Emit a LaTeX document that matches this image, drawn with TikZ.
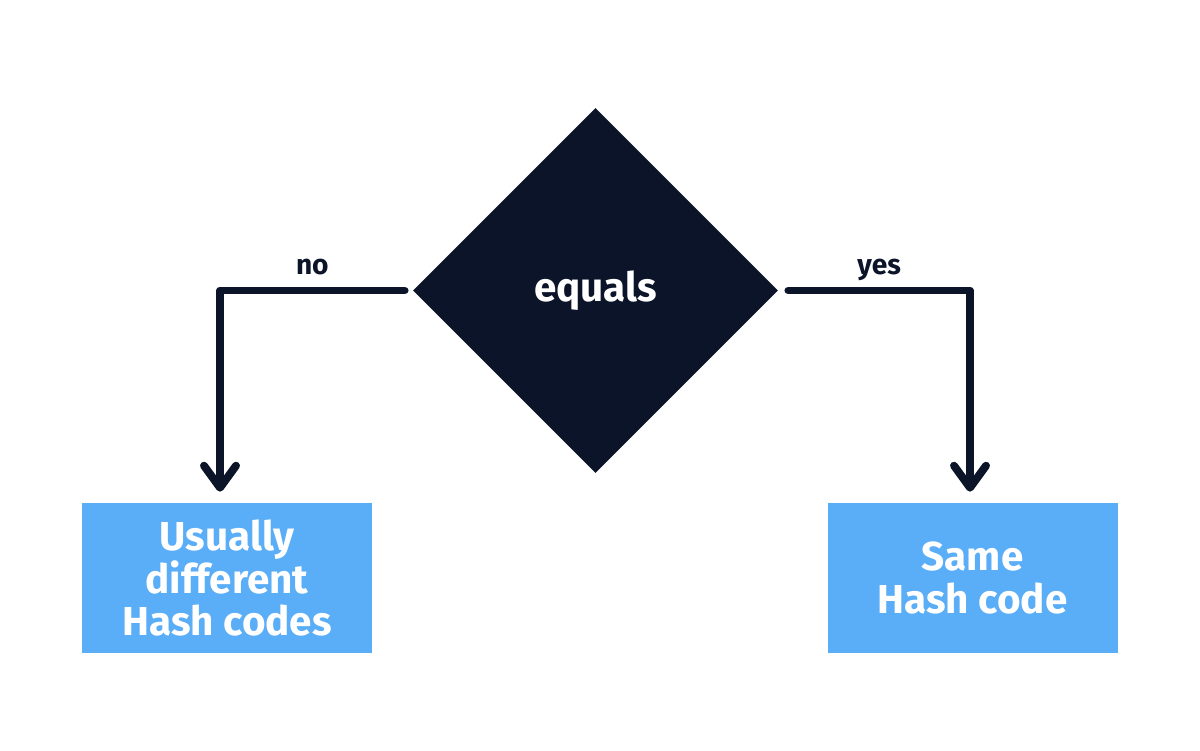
\documentclass[tikz,border=0pt]{standalone}
\usepackage{fontspec}
\setmainfont{Fira Sans}
\usetikzlibrary{arrows.meta,positioning,shapes.geometric}
\definecolor{navy}{HTML}{0B1428}
\definecolor{skyblue}{HTML}{5AADF7}

\begin{document}
\begin{tikzpicture}[
    decision/.style={diamond, fill=navy, minimum width=7.3cm, minimum height=7.3cm, inner sep=0pt, text=white, font=\fontsize{23}{24}\selectfont\bfseries},
    result/.style={rectangle, fill=skyblue, minimum width=5.8cm, minimum height=3cm, align=center, text=white, font=\fontsize{23}{24}\selectfont\bfseries},
    arrow/.style={navy, line width=4.5pt, line cap=round, line join=round, -{Straight Barb[round, length=0.44cm, width=0.64cm]}},
    answer/.style={above=0.12cm, text depth=0pt, font=\fontsize{16}{18}\selectfont\bfseries, text=navy},
]
    \useasboundingbox (0,0) rectangle (24,-15);

    \node[decision] (equals) at (11.91,-5.81) {equals};
    \node[result] (differ) at (4.54,-11.56) {Usually\\different\\Hash codes};
    \node[result] (same) at (19.45,-11.56) {Same\\Hash code};

    \draw[arrow] ([xshift=-0.16cm]equals.west) -| node[pos=0.25, answer] {no} ([xshift=-0.14cm, yshift=0.22cm]differ.north);
    \draw[arrow] ([xshift=0.2cm]equals.east) -| node[pos=0.25, answer] {yes} ([xshift=-0.05cm, yshift=0.22cm]same.north);
\end{tikzpicture}
\end{document}
